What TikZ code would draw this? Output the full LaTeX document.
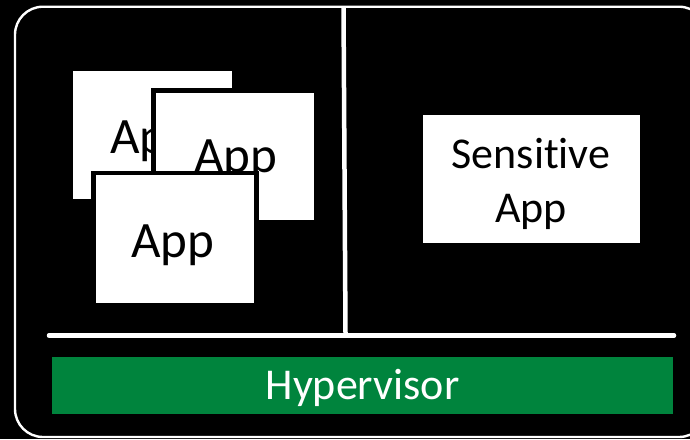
\documentclass[tikz,border=0pt]{standalone}
\usepackage{fontspec}
\setmainfont{Carlito}[Ligatures=NoCommon]
\definecolor{hvgreen}{RGB}{0,132,61}
\begin{document}
\begin{tikzpicture}[x=1pt,y=-1pt,
  frame/.style={draw=white,line width=2.4pt,rounded corners=28pt},
  divider/.style={draw=white,line width=4.5pt},
  appbox/.style={fill=white,draw=black,line width=4.5pt},
  apptext/.style={anchor=base,inner sep=0pt,text=black,font=\fontsize{51}{55}\selectfont},
  sens/.style={anchor=base,inner sep=0pt,text=black,font=\fontsize{44}{48}\selectfont},
  hvtext/.style={anchor=base,inner sep=0pt,text=white,font=\fontsize{44}{48}\selectfont}]
  % page and black backdrop
  \fill[black] (0,0) rectangle (690,439);
  \useasboundingbox (0,0) rectangle (690,439);
  % outer rounded frame (right side runs past the page edge)
  \begin{scope}
    \clip (0,0) rectangle (690,439);
    \draw[frame] (15,6.7) rectangle (707,437);
  \end{scope}
  % dividers
  \coordinate (vtop) at (343.5,7);
  \coordinate (vbot) at (345.5,333);
  \draw[divider] (vtop) -- (vbot);
  \coordinate (hl) at (49,335.5);
  \coordinate (hr) at (674,335.5);
  \draw[divider,line cap=round] (hl) -- (hr);
  % hypervisor bar
  \fill[hvgreen] (52,357) rectangle (673,413.5);
  \node[hvtext] (hv) at (362.5,399) {Hypervisor};
  % stacked apps
  \draw[appbox] (71,69) rectangle (234,201);
  \node[apptext] (app1) at (152,153) {App};
  \draw[appbox] (153.5,90.5) rectangle (316.5,222.5);
  \node[apptext] (app2) at (236,172) {App};
  \draw[appbox] (93.5,173) rectangle (256.5,305);
  \node[apptext] (app3) at (173,257) {App};
  % sensitive app
  \draw[appbox] (421,113) rectangle (642,245);
  \node[sens] (s1) at (531,168) {Sensitive};
  \node[sens] (s2) at (531,222) {App};
\end{tikzpicture}
\end{document}
